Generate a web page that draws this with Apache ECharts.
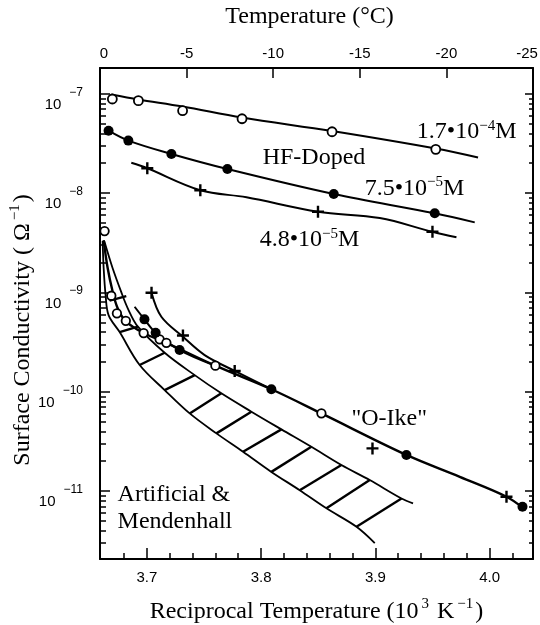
<!DOCTYPE html>
<html>
<head>
<meta charset="utf-8">
<script src="https://cdn.jsdelivr.net/npm/echarts@6/dist/echarts.min.js"></script>
<style>
  html, body { margin: 0; padding: 0; background: #fff; }
  #chart { width: 540px; height: 625px; }
</style>
</head>
<body>
<div id="chart"></div>
<script>
// Surface conductivity of ice (Ω^-1) against reciprocal temperature (10^3 K^-1)

// HF-doped ice, 1.7·10^-4 M (open circles) and its fitted curve
const hf17X = [3.6698, 3.6926, 3.7313, 3.7833, 3.8621, 3.9529];
const hf17Y = [8.87e-8, 8.53e-8, 6.76e-8, 5.61e-8, 4.15e-8, 2.76e-8];
const hf17FitX = [3.6689, 3.6926, 3.7313, 3.7833, 3.8621, 3.9529, 3.9899];
const hf17FitY = [9.84e-8, 8.77e-8, 7.45e-8, 5.77e-8, 4.22e-8, 2.81e-8, 2.28e-8];

// HF-doped ice, 7.5·10^-5 M (filled circles)
const hf75X = [3.6665, 3.6838, 3.7215, 3.7705, 3.8636, 3.9520];
const hf75Y = [4.25e-8, 3.38e-8, 2.48e-8, 1.75e-8, 9.8e-9, 6.27e-9];
const hf75FitX = [3.6665, 3.6838, 3.7215, 3.7705, 3.8636, 3.9520, 3.9870];
const hf75FitY = [4.25e-8, 3.38e-8, 2.48e-8, 1.75e-8, 9.8e-9, 6.27e-9, 5.08e-9];

// HF-doped ice, 4.8·10^-5 M (crosses)
const hf48X = [3.7004, 3.7468, 3.8498, 3.9500];
const hf48Y = [1.78e-8, 1.07e-8, 6.5e-9, 4.08e-9];
const hf48FitX = [3.6864, 3.7004, 3.7468, 3.7872, 3.8498, 3.9039, 3.9500, 3.9710];
const hf48FitY = [2.02e-8, 1.78e-8, 1.07e-8, 9.08e-9, 6.5e-9, 5.61e-9, 4.08e-9, 3.59e-9];

// "O-Ike" measurements: open circles, filled circles, crosses
const okOpenX = [3.6630, 3.6689, 3.6738, 3.6816, 3.6972, 3.7112, 3.7171, 3.7600, 3.8528];
const okOpenY = [4.15e-9, 9.26e-10, 6.17e-10, 5.18e-10, 3.9e-10, 3.37e-10, 3.11e-10, 1.83e-10, 6.06e-11];
const okFilledX = [3.6979, 3.7077, 3.7287, 3.8090, 3.9272, 4.0288];
const okFilledY = [5.36e-10, 3.93e-10, 2.63e-10, 1.06e-10, 2.31e-11, 6.95e-12];
const okCrossX = [3.7041, 3.7316, 3.7769, 3.8975, 4.0148];
const okCrossY = [9.93e-10, 3.68e-10, 1.62e-10, 2.69e-11, 8.77e-12];

// "O-Ike" curves
const okFitX = [3.6622, 3.6657, 3.6700, 3.6744, 3.6814, 3.6972, 3.7171, 3.7600, 3.8090, 3.8528, 3.9272, 3.9739, 4.0148, 4.0300];
const okFitY = [3.37e-9, 1.76e-9, 1.03e-9, 6.97e-10, 5.15e-10, 3.9e-10, 3.11e-10, 1.83e-10, 1.06e-10, 6.05e-11, 2.31e-11, 1.39e-11, 8.77e-12, 6.67e-12];
const okFilledFitX = [3.6893, 3.6979, 3.7077, 3.7287, 3.7600];
const okFilledFitY = [7.18e-10, 5.36e-10, 3.93e-10, 2.63e-10, 1.83e-10];
const okCrossFitX = [3.7041, 3.7127, 3.7316, 3.7506, 3.7769, 3.8090];
const okCrossFitY = [9.93e-10, 5.69e-10, 3.58e-10, 2.34e-10, 1.62e-10, 1.06e-10];

// "Artificial & Mendenhall" band: upper and lower edges
const bandUpX = [3.6628, 3.6700, 3.6773, 3.6832, 3.6922, 3.7156, 3.7419, 3.7652, 3.7915, 3.8178, 3.8440, 3.8703, 3.8951, 3.9229, 3.9330];
const bandUpY = [3.27e-9, 1.76e-9, 1.03e-9, 6.97e-10, 4.52e-10, 2.47e-10, 1.47e-10, 9.64e-11, 6.30e-11, 4.18e-11, 2.79e-11, 1.83e-11, 1.29e-11, 8.43e-12, 7.52e-12];
const bandLoX = [3.6613, 3.6622, 3.6639, 3.6665, 3.6762, 3.6937, 3.7156, 3.7375, 3.7609, 3.7842, 3.8090, 3.8338, 3.8572, 3.8835, 3.8995];
const bandLoY = [3.30e-9, 1.76e-9, 9.41e-10, 5.92e-10, 3.99e-10, 1.86e-10, 1.04e-10, 6.05e-11, 3.81e-11, 2.49e-11, 1.56e-11, 1.02e-11, 6.70e-12, 4.37e-12, 2.99e-12];
// band hatching: lower-edge end (x0, y0) to upper-edge end (x1, y1)
const hatchX0 = [3.6674, 3.6762, 3.6937, 3.7156, 3.7375, 3.7609, 3.7842, 3.8090, 3.8338, 3.8572, 3.8835];
const hatchY0 = [8.28e-10, 3.99e-10, 1.86e-10, 1.04e-10, 6.05e-11, 3.81e-11, 2.49e-11, 1.56e-11, 1.02e-11, 6.70e-12, 4.37e-12];
const hatchX1 = [3.6820, 3.6922, 3.7156, 3.7419, 3.7652, 3.7915, 3.8178, 3.8440, 3.8703, 3.8951, 3.9229];
const hatchY1 = [9.2e-10, 4.52e-10, 2.47e-10, 1.47e-10, 9.64e-11, 6.30e-11, 4.18e-11, 2.79e-11, 1.83e-11, 1.29e-11, 8.43e-12];

// in-plot captions, anchored at their left/middle
const noteText = ['{t|1.7•10}{s|−4}{t|M}', '{t|HF-Doped}', '{t|7.5•10}{s|−5}{t|M}', '{t|4.8•10}{s|−5}{t|M}', '{t|"O-Ike"}', '{t|Artificial &}\n{t|Mendenhall}'];
const noteX = [3.9363, 3.8014, 3.8907, 3.7988, 3.8791, 3.6744];
const noteY = [4.12e-8, 2.25e-8, 1.12e-8, 3.37e-9, 5.31e-11, 6.74e-12];

// axes
const xMin = 3.659, xMax = 4.038;
const yMin = 2.07e-12, yMax = 1.82e-7;
const xMajor = [3.7, 3.8, 3.9, 4.0];
const xMinor = [3.68, 3.72, 3.74, 3.76, 3.78, 3.82, 3.84, 3.86, 3.88, 3.92, 3.94, 3.96, 3.98, 4.02];
const yDecades = [1e-11, 1e-10, 1e-9, 1e-8, 1e-7];
const yMinorSteps = [2, 3, 4, 5, 6, 7, 8, 9];
const tempLabels = [0, -5, -10, -15, -20, -25];
const tempTicks = [-5, -10, -15, -20];

const yMinor = [];
[1e-12].concat(yDecades).forEach(d => yMinorSteps.forEach(m => {
  const v = m * d;
  if (v > yMin && v < yMax) yMinor.push(v);
}));

const zip = (xs, ys) => xs.map((x, i) => [x, ys[i]]);

const INK = '#000';
const SERIF = '"Liberation Serif", "Times New Roman", serif';
const SANS = '"Liberation Sans", Arial, sans-serif';

const titleRich = {
  t: { fontFamily: SERIF, fontSize: 24, color: INK, lineHeight: 30 },
  s: { fontFamily: SERIF, fontSize: 15, color: INK, lineHeight: 15, verticalAlign: 'top', padding: [0, 2, 0, 3] }
};
const noteRich = {
  t: { fontFamily: SERIF, fontSize: 24, color: INK, lineHeight: 27 },
  s: { fontFamily: SERIF, fontSize: 15, color: INK, lineHeight: 15, verticalAlign: 'top' }
};

function curve(xs, ys, width) {
  return {
    type: 'line', data: zip(xs, ys), showSymbol: false, symbol: 'none',
    smooth: 0.35, z: 2, silent: true,
    lineStyle: { color: INK, width: width }
  };
}
function points(xs, ys, symbol, size, fill, border) {
  return {
    type: 'scatter', data: zip(xs, ys), symbol: symbol, symbolSize: size, z: 4, silent: true,
    itemStyle: { color: fill, borderColor: INK, borderWidth: border, opacity: 1 }
  };
}
const CROSS = 'path://M4,0H6V4H10V6H6V10H4V6H0V4H4Z';

const series = [
  curve(hf17FitX, hf17FitY, 2),
  curve(hf75FitX, hf75FitY, 2),
  curve(hf48FitX, hf48FitY, 2),
  curve(bandUpX, bandUpY, 1.8),
  curve(bandLoX, bandLoY, 1.8),
  curve(okFitX, okFitY, 2.4),
  curve(okFilledFitX, okFilledFitY, 2),
  curve(okCrossFitX, okCrossFitY, 2)
];
hatchX0.forEach((x, i) => {
  series.push({
    type: 'line', data: [[x, hatchY0[i]], [hatchX1[i], hatchY1[i]]],
    showSymbol: false, symbol: 'none', z: 2, silent: true,
    lineStyle: { color: INK, width: 2.4 }
  });
});
series.push(
  points(hf17X, hf17Y, 'circle', 9, '#fff', 1.8),
  points(hf75X, hf75Y, 'circle', 10, INK, 0),
  points(hf48X, hf48Y, CROSS, 12, INK, 0),
  points(okOpenX, okOpenY, 'circle', 8.5, '#fff', 1.8),
  points(okFilledX, okFilledY, 'circle', 10, INK, 0),
  points(okCrossX, okCrossY, CROSS, 12, INK, 0),
  {
    type: 'scatter', symbolSize: 0, z: 5, silent: true,
    itemStyle: { color: INK, opacity: 1 },
    data: noteText.map((t, i) => ({ value: [noteX[i], noteY[i]], label: { formatter: t } })),
    label: {
      show: true, position: 'right', distance: 0, color: INK, opacity: 1,
      textBorderWidth: 0, fontFamily: SERIF, fontSize: 24, rich: noteRich
    }
  }
);

const tickLine = { color: INK, width: 1.5 };
const frameLine = { show: true, onZero: false, lineStyle: { color: INK, width: 2 } };

const option = {
  animation: false,
  backgroundColor: '#fff',
  grid: { left: 100, right: 7, top: 68, bottom: 66, containLabel: false, outerBoundsMode: 'none' },
  xAxis: [
    {
      type: 'value', position: 'bottom', min: xMin, max: xMax,
      axisLine: frameLine,
      axisTick: { show: true, inside: true, length: 11, customValues: xMajor, lineStyle: tickLine },
      axisLabel: {
        show: true, customValues: xMajor, margin: 11, formatter: v => v.toFixed(1),
        fontFamily: SANS, fontSize: 15, color: INK
      },
      splitLine: { show: false },
      name: '{t|Reciprocal Temperature (10}{s|3}{t| K}{s|−1}{t|)}',
      nameLocation: 'middle', nameGap: 38, nameMoveOverlap: false,
      nameTextStyle: { rich: titleRich }
    },
    {
      type: 'value', position: 'bottom', min: xMin, max: xMax,
      axisLine: { show: false },
      axisTick: { show: true, inside: true, length: 6, customValues: xMinor, lineStyle: tickLine },
      axisLabel: { show: false }, splitLine: { show: false }
    },
    {
      type: 'value', position: 'top', min: -25, max: 0, inverse: true,
      axisLine: frameLine,
      axisTick: { show: true, inside: true, length: 10, customValues: tempTicks, lineStyle: tickLine },
      axisLabel: {
        show: true, customValues: tempLabels, margin: 6,
        formatter: v => v === 0 ? '{a|0}' : (v === -25 ? '{e|-25}' : '{n|' + v + '}'),
        rich: {
          n: { fontFamily: SANS, fontSize: 15, color: INK, lineHeight: 16 },
          a: { fontFamily: SANS, fontSize: 15, color: INK, lineHeight: 16, padding: [0, 0, 0, 8] },
          e: { fontFamily: SANS, fontSize: 15, color: INK, lineHeight: 16, padding: [0, 12, 0, 0] }
        }
      },
      splitLine: { show: false },
      name: 'Temperature (°C)', nameLocation: 'middle', nameGap: 36, nameMoveOverlap: false,
      nameTextStyle: { fontFamily: SERIF, fontSize: 24, color: INK, lineHeight: 30, padding: [0, 14, 0, 0] }
    }
  ],
  yAxis: [
    {
      type: 'log', logBase: 10, position: 'left', min: yMin, max: yMax,
      axisLine: frameLine,
      axisTick: { show: true, inside: true, length: 10, customValues: yDecades, lineStyle: tickLine },
      axisLabel: {
        show: true, customValues: yDecades, margin: 17, padding: [22, 0, 0, 0],
        formatter: v => '{b|10}{s|−' + (-Math.round(Math.log10(v))) + '}',
        rich: {
          b: { fontFamily: SANS, fontSize: 15, color: INK, lineHeight: 37 },
          s: { fontFamily: SANS, fontSize: 12, color: INK, lineHeight: 12, verticalAlign: 'top', padding: [0, 0, 0, 8] }
        }
      },
      splitLine: { show: false },
      name: '{t|Surface Conductivity ( Ω}{s|−1}{t|)}',
      nameLocation: 'middle', nameGap: 62, nameMoveOverlap: false,
      nameTextStyle: { rich: titleRich, padding: [0, 33, 0, 0] }
    },
    {
      type: 'log', logBase: 10, position: 'left', min: yMin, max: yMax,
      axisLine: { show: false },
      axisTick: { show: true, inside: true, length: 6, customValues: yMinor, lineStyle: tickLine },
      axisLabel: { show: false }, splitLine: { show: false }
    },
    {
      type: 'log', logBase: 10, position: 'right', min: yMin, max: yMax,
      axisLine: frameLine,
      axisTick: { show: true, inside: true, length: 8, customValues: yDecades, lineStyle: tickLine },
      axisLabel: { show: false }, splitLine: { show: false }
    },
    {
      type: 'log', logBase: 10, position: 'right', min: yMin, max: yMax,
      axisLine: { show: false },
      axisTick: { show: true, inside: true, length: 4, customValues: yMinor, lineStyle: tickLine },
      axisLabel: { show: false }, splitLine: { show: false }
    }
  ],
  series: series
};

const chart = echarts.init(document.getElementById('chart'), null, { renderer: 'canvas' });
chart.setOption(option);
</script>
</body>
</html>
